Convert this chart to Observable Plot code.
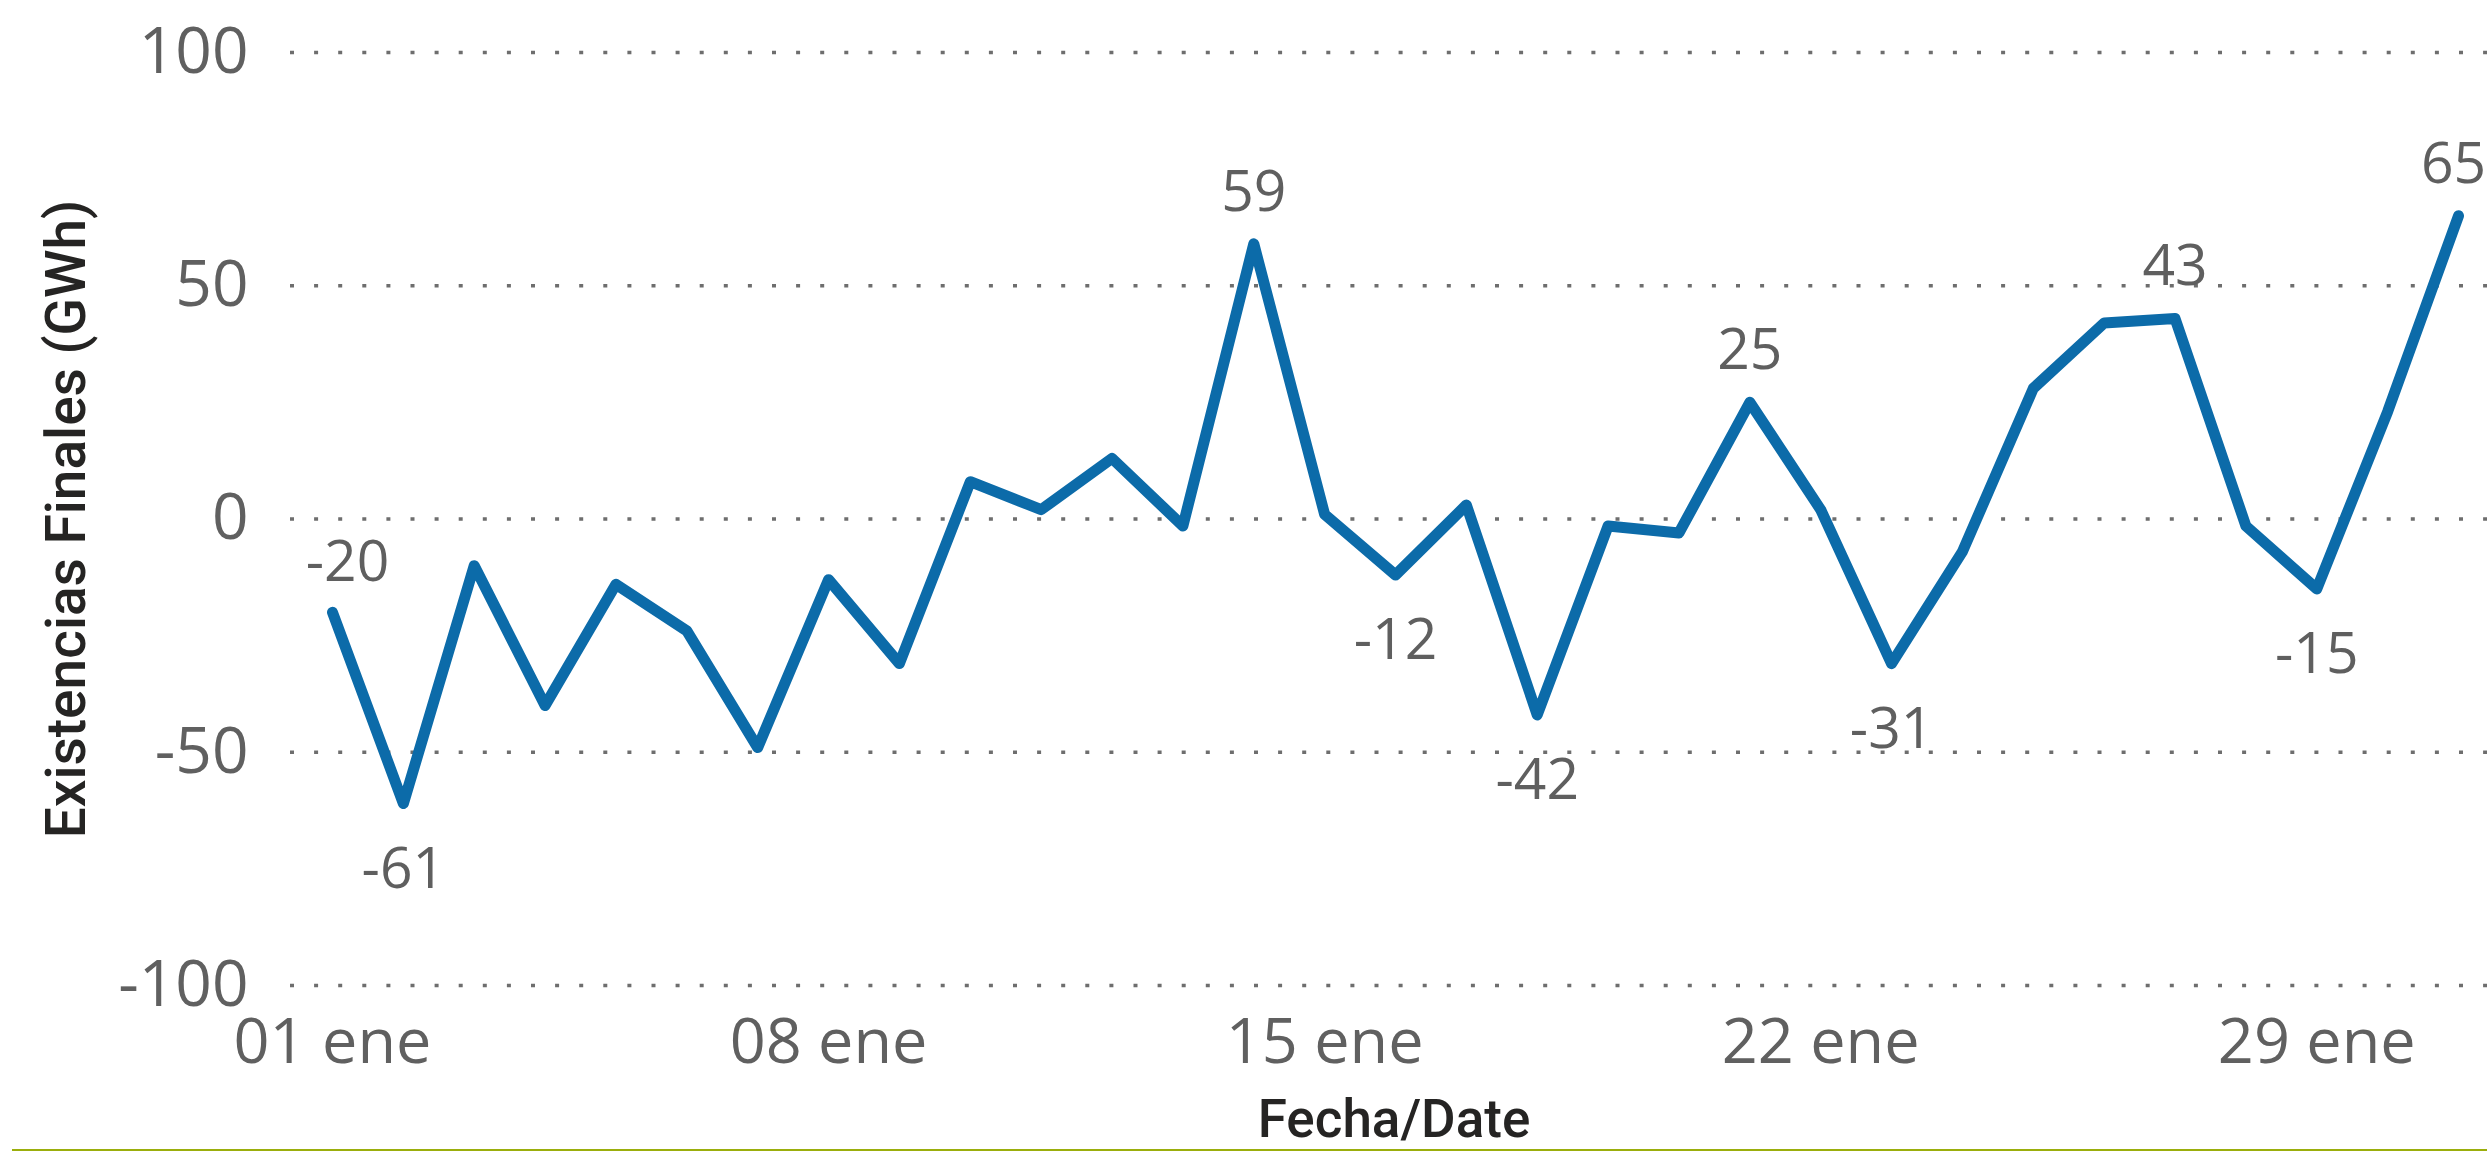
<!DOCTYPE html>
<html>
<head>
<meta charset="utf-8">
<script src="https://cdn.jsdelivr.net/npm/d3@7"></script>
<script src="https://cdn.jsdelivr.net/npm/@observablehq/plot@0.6"></script>
<style>
  html, body { margin: 0; padding: 0; background: #fff; }
  #chart svg { display: block; }
  #rule { height: 2px; margin-left: 12px; background: #9bae0c; }
</style>
</head>
<body>
<div id="chart"></div>
<div id="rule"></div>
<script>
// ---- data (Enero / January) ----
const days = [1, 2, 3, 4, 5, 6, 7, 8, 9, 10, 11, 12, 13, 14, 15, 16, 17, 18, 19, 20, 21, 22, 23, 24, 25, 26, 27, 28, 29, 30, 31];
const values = [-20, -61, -10, -40, -14, -24, -49, -13, -31, 8, 2, 13, -1.5, 59, 1, -12, 3, -42, -1.5, -3, 25, 2, -31, -7, 28, 42, 43, -1.5, -15, 23, 65];
const labelsAboveDays = [14, 21, 27];
const labelsBelowDays = [2, 16, 18, 23, 29];
const labelFirstDay = [1];
const labelLastDay = [31];
const xTickDays = [1, 8, 15, 22, 29];
const xTickLabels = ["01 ene", "08 ene", "15 ene", "22 ene", "29 ene"];
const yTicks = [-100, -50, 0, 50, 100];
const yTitle = "Existencias Finales (GWh)";
const xTitle = "Fecha/Date";

const toDate = d => new Date(Date.UTC(2024, 0, d));
const data = days.map((d, i) => ({date: toDate(d), day: d, value: values[i]}));
const pick = list => data.filter(d => list.includes(d.day));
const xTicks = xTickDays.map(toDate);

const tickColor = "#606060";
const labelColor = "#5f5f5f";
const titleColor = "#252423";
const labelStyle = {x: "date", y: "value", text: d => String(d.value), fontSize: 57, fill: labelColor};

const chart = Plot.plot({
  width: 2487,
  height: 1149,
  marginLeft: 290,
  marginRight: 0,
  marginTop: 52,
  marginBottom: 164,
  style: {fontFamily: "'Open Sans', 'Noto Sans', sans-serif", background: "#fff"},
  x: {type: "utc", domain: [toDate(days[0]), toDate(days[days.length - 1])], insetLeft: 42, insetRight: 29},
  y: {domain: [-100, 100]},
  marks: [
    Plot.ruleY(yTicks, {stroke: "#6e6e6e", strokeWidth: 3.5, strokeDasharray: "4 20.1"}),
    Plot.axisY({ticks: yTicks, tickSize: 0, tickPadding: 42, fontSize: 64, fill: tickColor, label: null,
      tickFormat: d => String(d)}),
    Plot.axisX({ticks: xTicks, tickSize: 0, tickPadding: 33, fontSize: 63, fill: tickColor, label: null,
      tickFormat: (d, i) => xTickLabels[i]}),
    Plot.line(data, {x: "date", y: "value", stroke: "#0c6ba9", strokeWidth: 11,
      strokeLinejoin: "round", strokeLinecap: "round"}),
    Plot.text(pick(labelsAboveDays), {...labelStyle, lineAnchor: "bottom", dy: -33}),
    Plot.text(pick(labelFirstDay), {...labelStyle, lineAnchor: "bottom", dy: -31, dx: 15}),
    Plot.text(pick(labelLastDay), {...labelStyle, lineAnchor: "bottom", dy: -33, dx: -5}),
    Plot.text(pick(labelsBelowDays), {...labelStyle, lineAnchor: "top", dy: 44}),
    Plot.text([yTitle], {frameAnchor: "left", textAnchor: "middle", rotate: -90, dx: -206, lineAnchor: "bottom",
      fontSize: 55, fontWeight: 500, fontFamily: "Roboto", fill: titleColor}),
    Plot.text([xTitle], {frameAnchor: "bottom", dx: 5, dy: 151, lineAnchor: "bottom",
      fontSize: 53, fontWeight: 500, fontFamily: "Roboto", fill: titleColor})
  ]
});
document.getElementById("chart").append(chart);
</script>
</body>
</html>
